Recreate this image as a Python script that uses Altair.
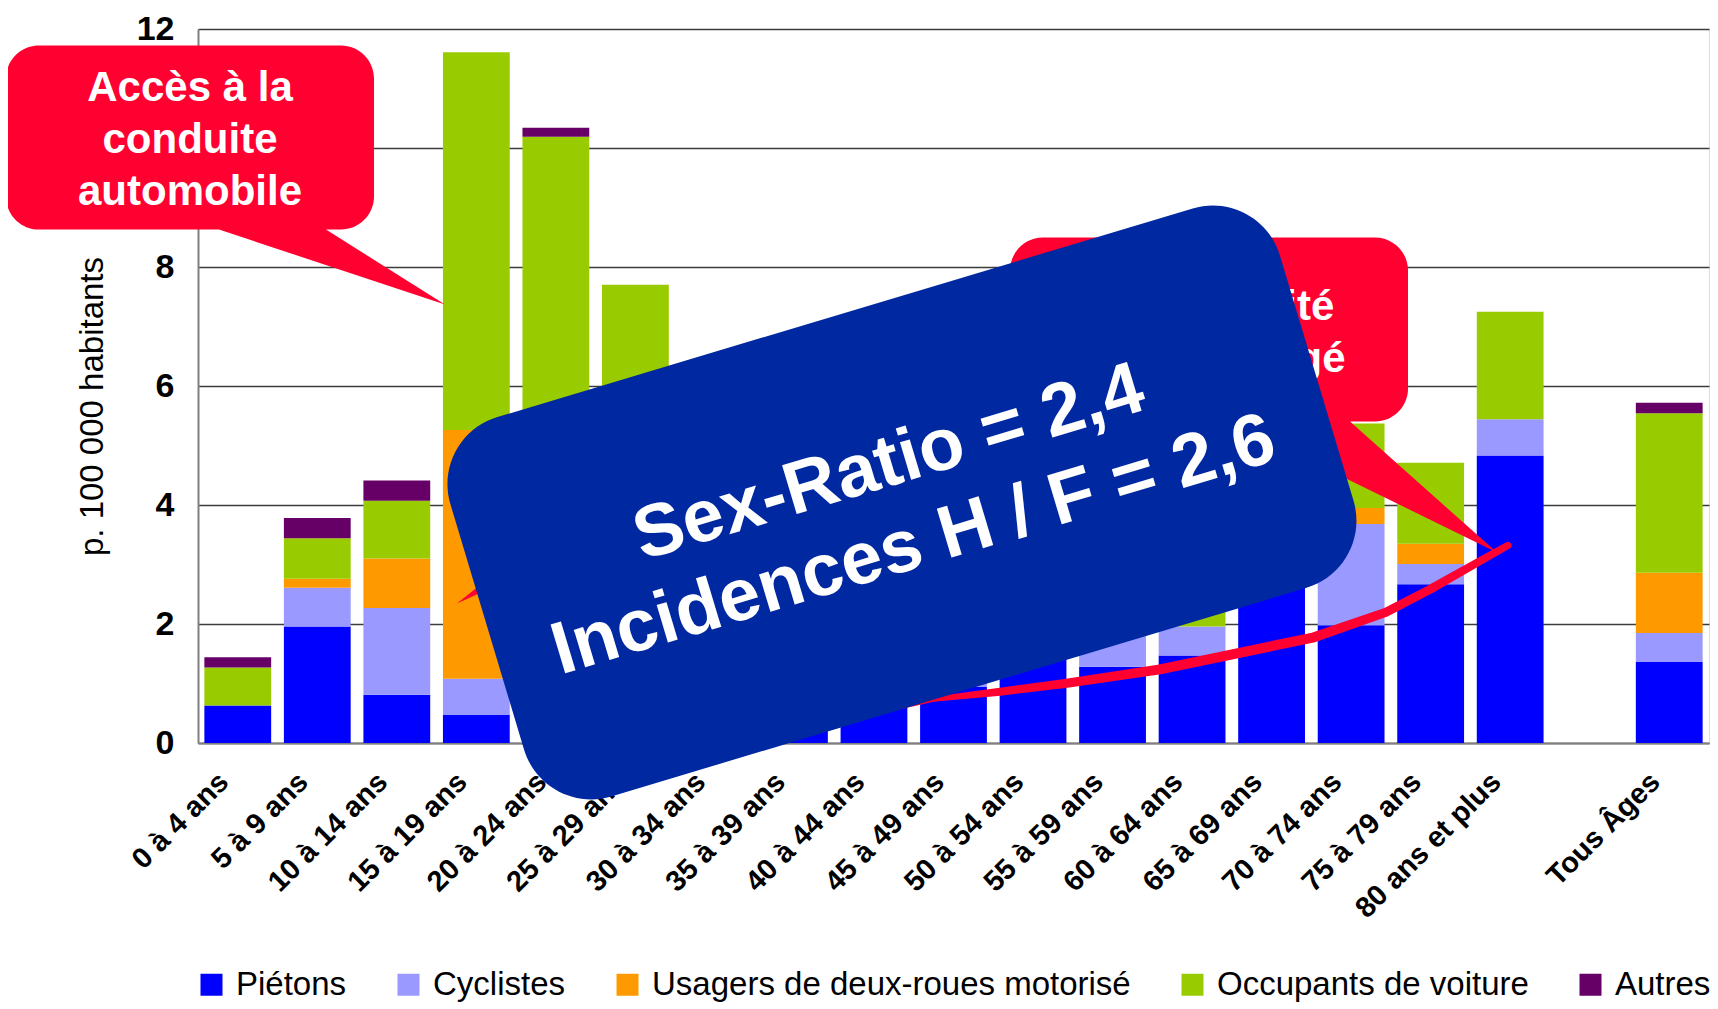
import altair as alt
import pandas as pd

# ---------------- data ----------------
categories = ["0 à 4 ans", "5 à 9 ans", "10 à 14 ans", "15 à 19 ans", "20 à 24 ans",
              "25 à 29 ans", "30 à 34 ans", "35 à 39 ans", "40 à 44 ans", "45 à 49 ans",
              "50 à 54 ans", "55 à 59 ans", "60 à 64 ans", "65 à 69 ans", "70 à 74 ans",
              "75 à 79 ans", "80 ans et plus", "Tous Âges"]
series = ["Piétons", "Cyclistes", "Usagers de deux-roues motorisé", "Occupants de voiture", "Autres"]
colors = ["#0000FF", "#9999FF", "#FF9900", "#99CC00", "#660066"]

pietons   = [0.63, 1.96, 0.81, 0.47, 0.60, 0.60, 0.55, 0.60, 0.75, 0.94, 1.50, 1.28, 1.47, 2.90, 1.98, 2.67, 4.83, 1.36]
cyclistes = [0.00, 0.65, 1.46, 0.61, 0.35, 0.30, 0.25, 0.20, 0.20, 0.25, 0.30, 0.55, 0.49, 0.55, 1.70, 0.34, 0.61, 0.49]
usagers   = [0.00, 0.15, 0.83, 4.18, 2.40, 1.90, 1.30, 1.00, 0.90, 0.70, 0.40, 0.20, 0.00, 0.25, 0.27, 0.34, 0.00, 1.01]
occupants = [0.64, 0.68, 0.97, 6.35, 6.84, 4.90, 3.20, 2.50, 2.30, 1.80, 1.30, 1.10, 0.95, 1.30, 1.42, 1.36, 1.81, 2.68]
autres    = [0.17, 0.34, 0.34, 0.00, 0.15, 0.00, 0.10, 0.10, 0.10, 0.10, 0.05, 0.05, 0.05, 0.10, 0.00, 0.00, 0.00, 0.18]

y_ticks = [0, 2, 4, 6, 8, 10, 12]

callout1_text = "Accès à la\nconduite\nautomobile"
callout2_text = "Vulnérabilité\ndu piéton âgé"
box_text = "Sex-Ratio = 2,4\nIncidences H / F = 2,6"

# ---------------- table ----------------
rows = []
for si, (s, vals) in enumerate(zip(series, [pietons, cyclistes, usagers, occupants, autres])):
    for c, v in zip(categories, vals):
        rows.append({"cat": c, "serie": s, "ordre": si, "val": v})
df = pd.DataFrame(rows)

axis_domain = categories[:-1] + [" "] + categories[-1:]

FONT = "Liberation Sans"
RED = "#FF0030"
BLUE_BOX = "#0028A0"

bars = alt.Chart(df).mark_bar(strokeWidth=0).encode(
    x=alt.X("cat:N",
            scale=alt.Scale(domain=axis_domain, paddingInner=0.16, paddingOuter=0.08),
            axis=alt.Axis(title=None, labelAngle=315, labelAlign="right", labelBaseline="middle",
                          labelFontSize=29, labelFontWeight="bold", labelFont=FONT, labelColor="black",
                          labelPadding=34, labelOffset=-14, labelLimit=400, ticks=False,
                          domainColor="#808080", domainWidth=2, grid=False, labelOverlap=False)),
    y=alt.Y("val:Q", stack="zero",
            scale=alt.Scale(domain=[0, 12], nice=False),
            axis=alt.Axis(title="p. 100 000 habitants", values=y_ticks, grid=True,
                          labelExpr="datum.value == 10 ? '' : datum.label",
                          gridColor="#3C3C3C", gridWidth=1.5, domainColor="#808080", domainWidth=2,
                          ticks=False, labelFontSize=34, labelFontWeight="bold", labelFont=FONT,
                          labelColor="black", labelPadding=24,
                          titleFontSize=33, titleFontWeight="normal", titleFont=FONT,
                          titleColor="black", titleAngle=270, titleX=-106, titleY=377,
                          titleAlign="center", titleBaseline="middle")),
    color=alt.Color("serie:N", scale=alt.Scale(domain=series, range=colors),
                    legend=alt.Legend(title=None, orient="none", legendX=-3, legendY=939,
                                      direction="horizontal", symbolType="square", symbolSize=484,
                                      symbolStrokeWidth=0, labelFontSize=33, labelFont=FONT,
                                      labelColor="black", columnPadding=45, labelOffset=8,
                                      labelLimit=600)),
    order=alt.Order("ordre:Q", sort="ascending"),
)

# ---------------- annotations (chart units: x = category slot, y = value) ----------------
ax = alt.X("sx:Q", scale=alt.Scale(domain=[0, 19], nice=False, zero=False), axis=None)
ay = alt.Y("sy:Q", scale=alt.Scale(domain=[0, 12], nice=False, zero=False), axis=None)


def rrect_path(hw, hh, r, ptr=None):
    k = 0.5523 * r
    p = [f"M{-hw + r:.4f},{-hh:.4f}",
         f"L{hw - r:.4f},{-hh:.4f}",
         f"C{hw - r + k:.4f},{-hh:.4f} {hw:.4f},{-hh + r - k:.4f} {hw:.4f},{-hh + r:.4f}",
         f"L{hw:.4f},{hh - r:.4f}",
         f"C{hw:.4f},{hh - r + k:.4f} {hw - r + k:.4f},{hh:.4f} {hw - r:.4f},{hh:.4f}"]
    if ptr:
        b1, b2, tx, ty = ptr
        p.append(f"L{b2:.4f},{hh:.4f} L{tx:.4f},{ty:.4f} L{b1:.4f},{hh:.4f}")
    p += [f"L{-hw + r:.4f},{hh:.4f}",
          f"C{-hw + r - k:.4f},{hh:.4f} {-hw:.4f},{hh - r + k:.4f} {-hw:.4f},{hh - r:.4f}",
          f"L{-hw:.4f},{-hh + r:.4f}",
          f"C{-hw:.4f},{-hh + r - k:.4f} {-hw + r - k:.4f},{-hh:.4f} {-hw + r:.4f},{-hh:.4f}",
          "Z"]
    return " ".join(p)


def shape_layer(sx, sy, path, size, color, angle=0):
    d = pd.DataFrame({"sx": [sx], "sy": [sy]})
    return alt.Chart(d).mark_point(shape=path, size=size, filled=True, color=color,
                                   opacity=1, strokeWidth=0, angle=angle).encode(x=ax, y=ay)


def text_layer(sx, sy, txt, size, lh, angle=0):
    # (sx, sy) anchors the first line; following lines go below it
    d = pd.DataFrame({"sx": [sx], "sy": [sy]})
    return alt.Chart(d).mark_text(text=txt, lineBreak="\n", font=FONT, fontWeight="bold",
                                  fontSize=size, lineHeight=lh, color="white", align="center",
                                  baseline="middle", angle=angle).encode(x=ax, y=ay)


# red tapered curve
curve_x = [8.576, 9.242, 10.085, 10.924, 12.097, 14.033, 14.938, 15.492, 16.158, 16.472]
curve_y = [0.499, 0.734, 0.862, 1.003, 1.238, 1.776, 2.196, 2.582, 3.086, 3.321]
curve_w = [1, 5, 8, 9, 10, 10, 9, 9, 8, 7]
curve_df = pd.DataFrame({"sx": curve_x, "sy": curve_y, "w": curve_w, "i": list(range(len(curve_x)))})
curve = alt.Chart(curve_df).mark_trail(color=RED).encode(
    x=ax, y=ay, size=alt.Size("w:Q", scale=None, legend=None), order="i:Q")

wedge = shape_layer(3.797, 2.901, "M-0.672,0.516 L0.625,-0.516 L0.9375,-0.219 Z", 16384, RED)

callout2 = shape_layer(12.713, 6.949, rrect_path(0.6862, 0.3172, 0.1138, (0.0724, 0.4862, 0.9931, 0.769)),
                       336400, RED)
callout2_t = text_layer(12.713, 7.32, callout2_text, 42, 52)

callout1 = shape_layer(-0.1006, 10.175, rrect_path(0.71875, 0.359375, 0.1289, (0.1133, 0.5313, 0.996, 0.652)),
                       262144, RED)
callout1_t = text_layer(-0.1006, 11.015, callout1_text, 42, 52)

box = shape_layer(8.852, 4.043, rrect_path(1.0, 0.4573, 0.1617), 749956, BLUE_BOX, angle=343.3)
box_t = text_layer(8.689, 4.698, box_text, 74, 86, angle=343.3)

chart = alt.layer(bars, curve, wedge, callout2, callout2_t, callout1, callout1_t, box, box_t).resolve_scale(
    x="independent", y="independent"
).properties(
    width=1511, height=714,
    padding={"left": 190, "top": 21, "right": 1, "bottom": 262},
    autosize=alt.AutoSizeParams(type="none"),
).configure_view(stroke=None).configure(background="white")

chart.save("out.html", embed_options={"renderer": "svg", "actions": False})
